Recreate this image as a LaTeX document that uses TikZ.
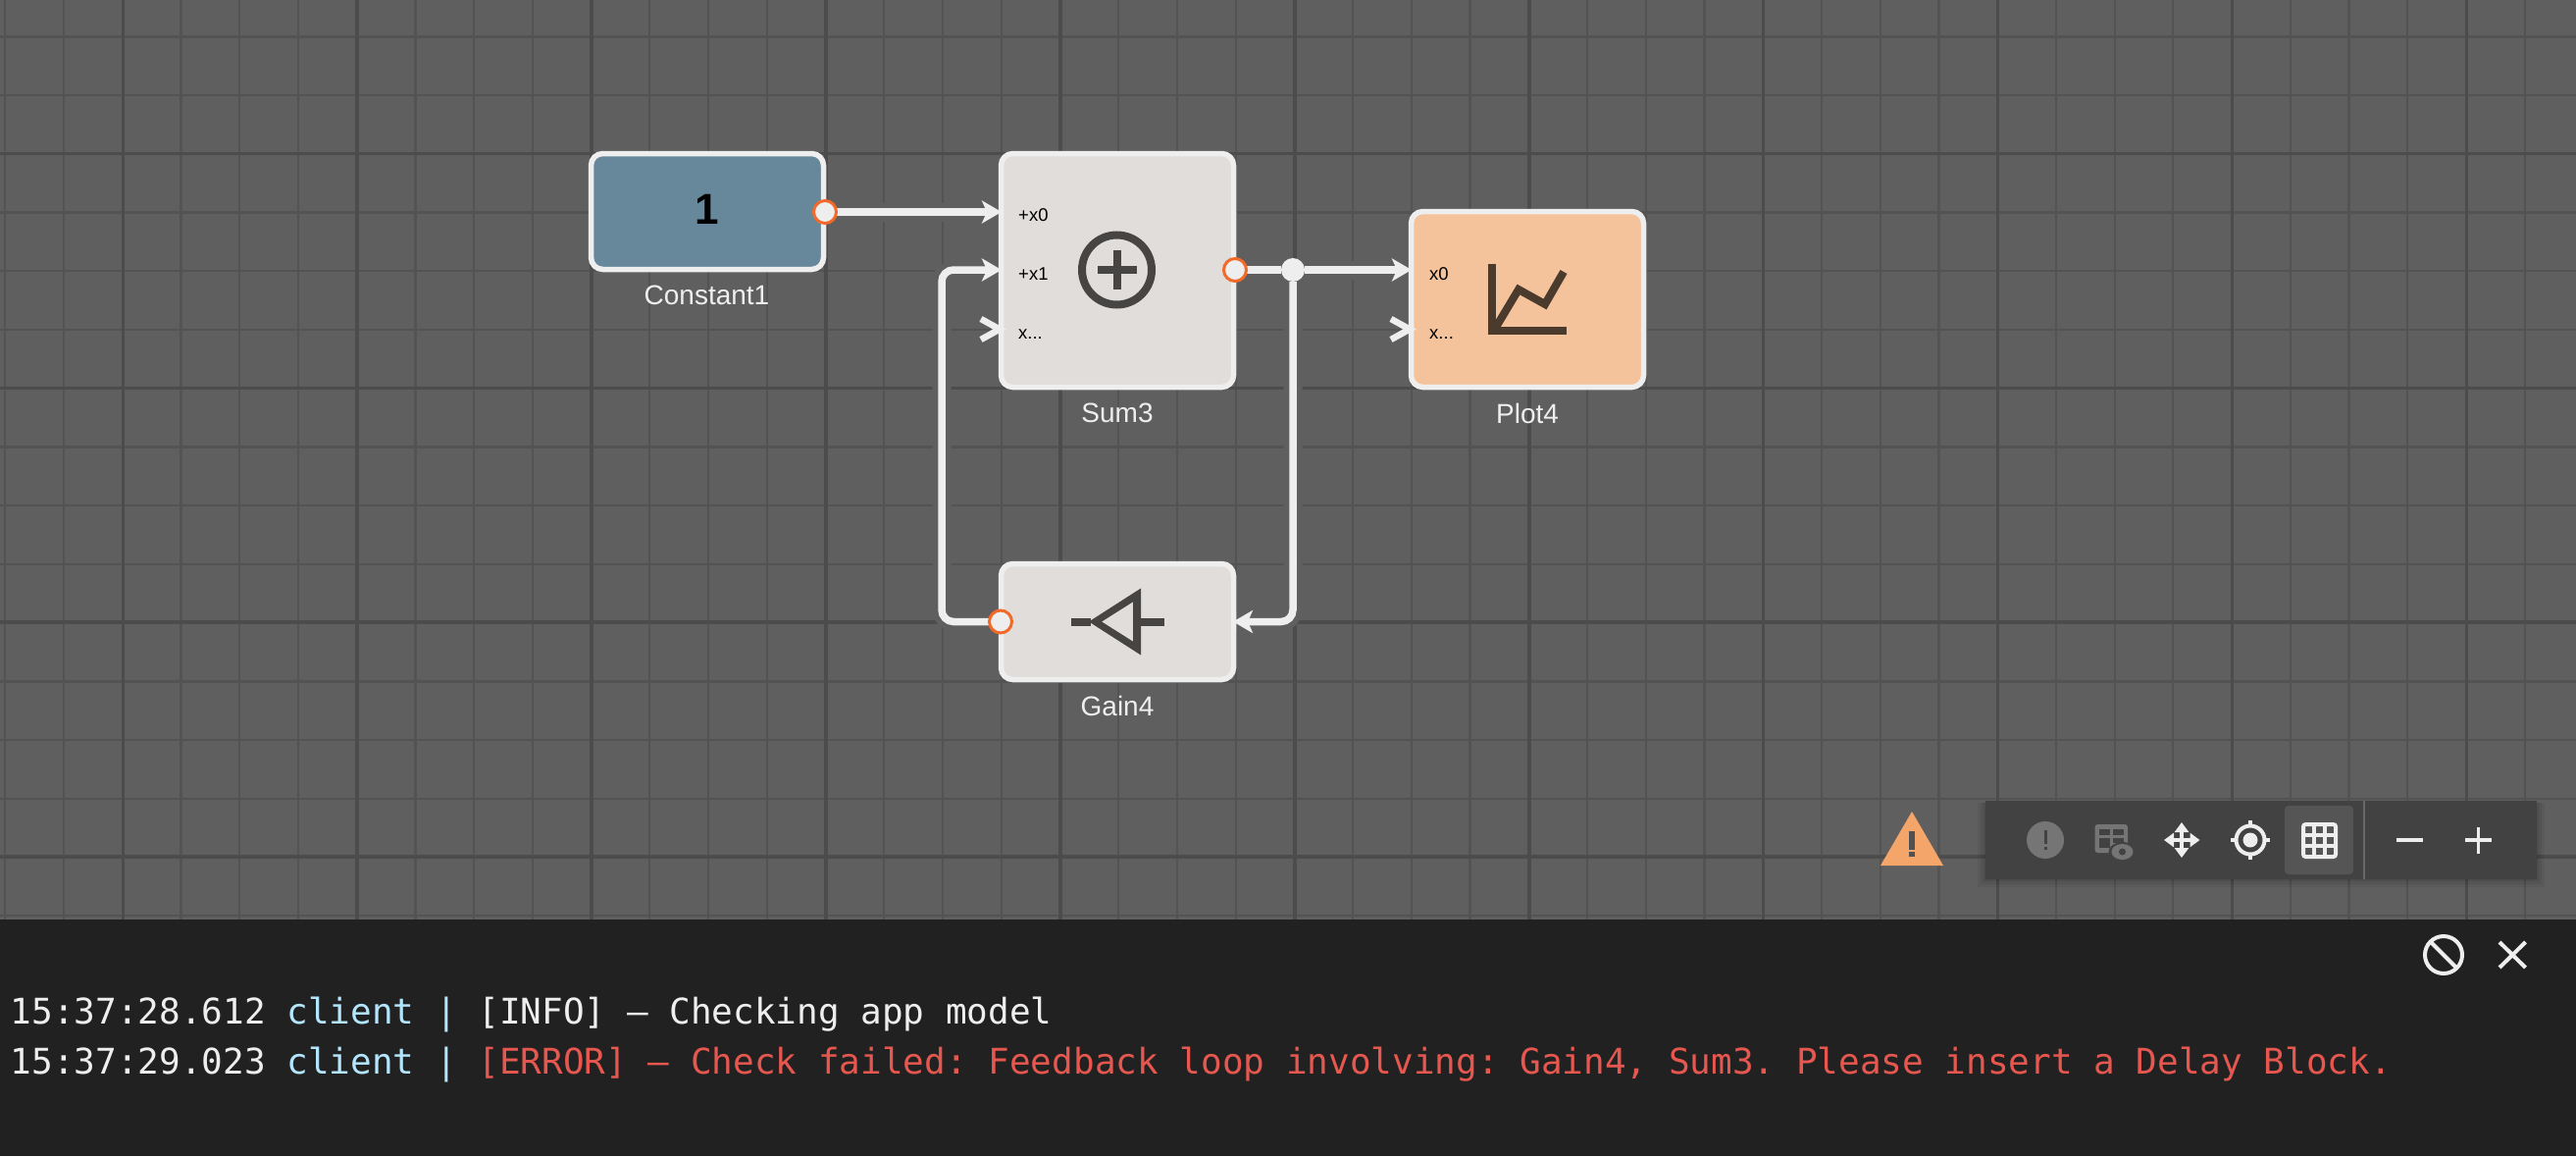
\documentclass[tikz,border=0pt]{standalone}
\usepackage{fontspec}
\setmainfont{Liberation Sans}
\newfontfamily\logfont{DejaVu Sans Mono}
\usetikzlibrary{arrows.meta}
\definecolor{canvasbg}{HTML}{5F5F5F}
\definecolor{gridminor}{HTML}{535353}
\definecolor{gridmajor}{HTML}{4C4C4C}
\definecolor{wirecol}{HTML}{EEEEEE}
\definecolor{constfill}{HTML}{67889B}
\definecolor{sumfill}{HTML}{E0DDDA}
\definecolor{plotfill}{HTML}{F4C39C}
\definecolor{iconcol}{HTML}{474543}
\definecolor{ploticon}{HTML}{4B3B2D}
\definecolor{portorange}{HTML}{F26A2A}
\definecolor{panelbg}{HTML}{212121}
\definecolor{toolbg}{HTML}{424242}
\definecolor{toolhi}{HTML}{555555}
\definecolor{tooldim}{HTML}{757575}
\definecolor{warncol}{HTML}{F4A56A}
\definecolor{clientcol}{HTML}{B3E5FC}
\definecolor{errcol}{HTML}{E5574F}
\pgfdeclarelayer{bg}
\pgfdeclarelayer{wires}
\pgfsetlayers{bg,wires,main}
\tikzset{
  x=1pt,y=-1pt,
  blockbox/.style={draw=wirecol,line width=5.5pt,rounded corners=12pt,minimum width=237pt,inner sep=0pt,outer sep=0pt},
  blocklabel/.style={text=wirecol,font=\fontsize{28}{28}\selectfont,anchor=base,inner sep=0pt},
  portlabel/.style={text=black,font=\fontsize{18.5}{18.5}\selectfont,anchor=base west,inner sep=0pt},
  outport/.style={circle,draw=portorange,fill=wirecol,line width=3pt,minimum size=23pt,inner sep=0pt,outer sep=0pt},
  junctiondot/.style={circle,fill=wirecol,minimum size=24pt,inner sep=0pt,outer sep=0pt},
  wire/.style={draw=wirecol,line width=7.5pt,rounded corners=12pt},
  halo/.style={draw=canvasbg,line width=19pt,rounded corners=12pt},
  tipped/.style={-{Stealth[length=20pt,width=23pt,inset=5pt]}},
  chevron/.style={draw=wirecol,line width=6.5pt,line join=miter},
  logline/.style={text=wirecol,font=\logfont\fontsize{36}{36}\selectfont,anchor=base west,inner sep=0pt},
  tooldraw/.style={draw=wirecol,line width=4pt},
}
\begin{document}
\frenchspacing
\begin{tikzpicture}
\useasboundingbox (0,0) rectangle (2626,1178);
\begin{pgfonlayer}{bg}
  \fill[canvasbg] (0,0) rectangle (2626,940);
  \foreach \k in {0,...,43}{
    \pgfmathsetmacro{\gx}{5.3+59.73*\k}
    \draw[gridminor,line width=2.2pt] (\gx,0) -- (\gx,940);
  }
  \foreach \k in {0,...,15}{
    \pgfmathsetmacro{\gy}{37.4+59.73*\k}
    \draw[gridminor,line width=2.2pt] (0,\gy) -- (2626,\gy);
  }
  \foreach \k in {0,...,10}{
    \pgfmathsetmacro{\gx}{125.3+238.9*\k}
    \draw[gridmajor,line width=3.6pt] (\gx,0) -- (\gx,940);
  }
  \foreach \k in {0,...,3}{
    \pgfmathsetmacro{\gy}{156.4+238.9*\k}
    \draw[gridmajor,line width=3.6pt] (0,\gy) -- (2626,\gy);
  }
\end{pgfonlayer}

% blocks
\node[blockbox,fill=constfill,minimum height=118pt] (constant) at (721,215.5) {};
\node[blockbox,fill=sumfill,minimum height=238pt] (sum) at (1139,275.5) {};
\node[blockbox,fill=plotfill,minimum height=179pt] (plot) at (1557,305) {};
\node[blockbox,fill=sumfill,minimum height=118pt] (gain) at (1139,633.5) {};

\node[font=\bfseries\fontsize{44}{44}\selectfont,text=black,inner sep=0pt] (constval) at (720.5,213) {1};
\node[blocklabel] (constlabel) at (720.5,310.5) {Constant1};
\node[blocklabel] (sumlabel) at (1139,430.5) {Sum3};
\node[blocklabel] (plotlabel) at (1557,431) {Plot4};
\node[blocklabel] (gainlabel) at (1139,729) {Gain4};

\node[portlabel] (sumx0) at (1038,225) {+x0};
\node[portlabel] (sumx1) at (1038,285) {+x1};
\node[portlabel] (sumxn) at (1038,345) {x...};
\node[portlabel] (plotx0) at (1457,285) {x0};
\node[portlabel] (plotxn) at (1457,345) {x...};

% ports
\node[outport] (constout) at (841,216) {};
\node[outport] (sumout) at (1259,275) {};
\node[outport] (gainout) at (1020,633.5) {};
\node[junctiondot] (junction) at (1318,275) {};
\coordinate (sumin0) at (1021,216);
\coordinate (sumin1) at (1021,275);
\coordinate (plotin0) at (1439,275);
\coordinate (gainin) at (1257,633.5);
\coordinate (fbA) at (960,633.5);
\coordinate (fbB) at (960,275);

\begin{pgfonlayer}{bg}
  \path[halo] (constout.center) -- (sumin0);
  \path[halo] (sumout.center) -- (plotin0);
  \path[halo] (junction.center) |- (gainin);
  \path[halo] (gainout.center) -- (fbA) -- (fbB) -- (sumin1);
\end{pgfonlayer}
\begin{pgfonlayer}{wires}
  \path[wire,tipped] (constout) -- (sumin0);
  \path[wire] (sumout) -- (junction);
  \path[wire,tipped] (junction) -- (plotin0);
  \path[wire,tipped] (junction) |- (gainin);
  \path[wire,tipped] (gainout) -- (fbA) -- (fbB) -- (sumin1);
\end{pgfonlayer}

% open inputs
\draw[chevron] (1000,325) -- (1019,335.5) -- (1000,346);
\draw[chevron] (1418,325) -- (1437,335.5) -- (1418,346);

% Sum icon
\draw[iconcol,line width=8pt] (1138.5,275) circle (35.5pt);
\fill[iconcol] (1118.5,271) rectangle (1158.5,279);
\fill[iconcol] (1134.5,255) rectangle (1142.5,295);

% Plot icon
\draw[ploticon,line width=8pt,line join=miter] (1520.5,269) -- (1520.5,337) -- (1597,337);
\draw[ploticon,line width=8pt,line join=miter] (1524,335) -- (1548,295) -- (1575,310) -- (1594,277);

% Gain icon
\fill[iconcol,even odd rule] (1110,633.5) -- (1163,599.5) -- (1163,667.5) -- cycle
   (1123,633.5) -- (1155,613.3) -- (1155,653.7) -- cycle;
\fill[iconcol] (1092,629.5) rectangle (1112,637.5);
\fill[iconcol] (1162,629.5) rectangle (1187,637.5);

% warning
\fill[warncol] (1949,827) -- (1981,882) -- (1917,882) -- cycle;
\fill[canvasbg!85!black] (1946,847) rectangle (1952,866);
\fill[canvasbg!85!black] (1946,868) rectangle (1952,873);

% toolbar
\foreach \o/\a in {8/0.05,5/0.06,2/0.08}{
  \fill[black,opacity=\a] (2024-\o,816+2) rectangle (2586+\o,896+\o);
}
\fill[toolbg] (2024,816) rectangle (2586,896);
\fill[toolhi,rounded corners=4pt] (2329,821) rectangle (2399,891);
\fill[wirecol!22!toolbg] (2409,816) rectangle (2410.5,896);
% exclamation
\fill[tooldim] (2085,856) circle (19pt);
\fill[toolbg] (2083.5,846) rectangle (2086.5,860);
\fill[toolbg] (2083.5,863) rectangle (2086.5,866);
% table with eye
\fill[tooldim,rounded corners=3pt] (2135.5,840) rectangle (2169,869);
\fill[toolbg] (2140,845) rectangle (2151,851);
\fill[toolbg] (2154,845) rectangle (2165,851);
\fill[toolbg] (2140,854) rectangle (2151,864);
\fill[toolbg] (2154,854) rectangle (2165,859);
\fill[toolbg] (2163.5,868) ellipse (14pt and 10pt);
\fill[tooldim] (2163.5,868) ellipse (11pt and 8pt);
\fill[toolbg] (2163.5,868) circle (3.5pt);
% move
\draw[wirecol,line width=3.5pt,{Triangle[length=10pt,width=14pt]}-{Triangle[length=10pt,width=14pt]}] (2206,856) -- (2242.5,856);
\draw[wirecol,line width=3.5pt,{Triangle[length=10pt,width=14pt]}-{Triangle[length=10pt,width=14pt]}] (2224,838) -- (2224,874);
% target
\draw[tooldraw] (2294,856) circle (14.5pt);
\fill[wirecol] (2294,856) circle (7.5pt);
\draw[tooldraw] (2274,856) -- (2280,856) (2308,856) -- (2314,856) (2294,836) -- (2294,842) (2294,870) -- (2294,876);
% grid
\draw[tooldraw,rounded corners=2.5pt] (2348,840) rectangle (2381,873);
\draw[tooldraw] (2359,840) -- (2359,873) (2370,840) -- (2370,873) (2348,851) -- (2381,851) (2348,862) -- (2381,862);
% zoom
\draw[wirecol,line width=3.5pt] (2443,856) -- (2470,856);
\draw[wirecol,line width=3.5pt] (2513,856) -- (2540,856) (2526.5,843) -- (2526.5,870);

% log panel
\fill[panelbg] (0,937) rectangle (2626,1178);
\draw[tooldraw] (2491,973) circle (19pt);
\draw[tooldraw] (2477.6,959.6) -- (2504.4,986.4);
\draw[tooldraw] (2548,960) -- (2574.5,986) (2574.5,960) -- (2548,986);
\node[logline] (logone) at (10.5,1043) {15:37:28.612 {\color{clientcol}client | }[INFO] – Checking app model};
\node[logline] (logtwo) at (10.5,1094) {15:37:29.023 {\color{clientcol}client | }{\color{errcol}[ERROR] – Check failed: Feedback loop involving: Gain4, Sum3. Please insert a Delay Block.}};
\end{tikzpicture}
\end{document}
